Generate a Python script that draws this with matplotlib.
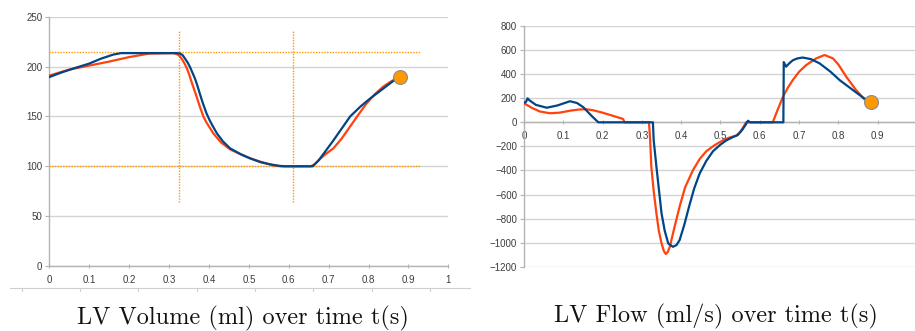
import numpy as np
import matplotlib.pyplot as plt
from matplotlib.lines import Line2D

# LV volume (ml) - time t(s)
vol_t_blue = [0.0, 0.03, 0.06, 0.10, 0.13, 0.16, 0.18, 0.25, 0.32, 0.328, 0.334, 0.34, 0.346,
              0.352, 0.358, 0.365, 0.371, 0.377, 0.385, 0.394, 0.402, 0.41, 0.42, 0.435, 0.453,
              0.48, 0.503, 0.53, 0.553, 0.575, 0.59, 0.66, 0.675, 0.69, 0.712, 0.733, 0.754,
              0.78, 0.804, 0.837, 0.86, 0.88]
vol_blue = [189.5, 194, 198, 203, 208, 212, 213.5, 213.5, 213.5, 213, 211.5, 208, 204.5,
            200, 194.5, 188, 181, 173, 163, 153, 146, 140, 133, 125, 118,
            112, 108, 104, 102, 100.5, 100, 100, 106, 114, 126, 138, 150,
            160, 168, 178, 185, 190]
vol_t_red = [0.0, 0.05, 0.10, 0.15, 0.20, 0.25, 0.31, 0.32, 0.327, 0.333, 0.339, 0.345, 0.351,
             0.357, 0.363, 0.369, 0.377, 0.386, 0.393, 0.40, 0.411, 0.43, 0.453, 0.48, 0.503,
             0.53, 0.56, 0.58, 0.655, 0.665, 0.68, 0.695, 0.712, 0.733, 0.754, 0.775, 0.795,
             0.815, 0.837, 0.86, 0.88]
vol_red = [191, 197, 201, 205, 209.5, 213, 213.5, 212.5, 210.5, 207, 203, 198, 191.5,
           184, 177, 170, 160, 150, 144.5, 140, 133, 124, 117, 112, 108,
           104.5, 101, 100, 100, 102, 108, 113, 118, 128, 140, 152, 163,
           172, 180, 186, 190]
vol_dot = (0.88, 190)
vol_hlines = [215, 100]
vol_vlines = [0.326, 0.611]

# LV flow (ml/s) - time t(s)
flow_t_blue = [0.0, 0.005, 0.009, 0.013, 0.03, 0.058, 0.085, 0.117, 0.135, 0.151, 0.17, 0.189,
               0.25, 0.328, 0.33, 0.337, 0.344, 0.35, 0.358, 0.367, 0.379, 0.388, 0.396, 0.408,
               0.42, 0.433, 0.447, 0.464, 0.481, 0.50, 0.515, 0.53, 0.544, 0.556, 0.564, 0.57,
               0.575, 0.66, 0.661, 0.667, 0.675, 0.684, 0.695, 0.709, 0.73, 0.752, 0.78, 0.803,
               0.837, 0.865, 0.883]
flow_blue = [162, 170, 199, 185, 145, 121, 140, 175, 160, 125, 60, 0,
             0, 0, -150, -370, -580, -757, -900, -1006, -1034, -1020, -978, -850,
             -700, -550, -425, -320, -240, -185, -150, -125, -106, -60, -20, 13,
             0, 0, 500, 462, 490, 515, 530, 538, 525, 490, 420, 351,
             268, 200, 171]
flow_t_red = [0.0, 0.02, 0.04, 0.066, 0.09, 0.12, 0.142, 0.16, 0.176, 0.2, 0.218, 0.24, 0.252,
              0.256, 0.318, 0.321, 0.324, 0.33, 0.337, 0.343, 0.35, 0.356, 0.361, 0.366, 0.371,
              0.383, 0.396, 0.41, 0.43, 0.447, 0.464, 0.485, 0.506, 0.52, 0.54, 0.55, 0.558,
              0.565, 0.633, 0.645, 0.659, 0.672, 0.684, 0.70, 0.718, 0.743, 0.765, 0.786, 0.80,
              0.82, 0.845, 0.865, 0.883]
flow_red = [158, 120, 90, 75, 80, 98, 107, 108, 100, 80, 62, 40, 28,
            0, 0, -150, -370, -570, -757, -900, -1006, -1070, -1094, -1075, -1034,
            -870, -700, -540, -397, -305, -240, -190, -150, -130, -110, -80, -40,
            0, 0, 100, 213, 290, 351, 420, 475, 530, 559, 531, 480,
            379, 268, 195, 171]
flow_dot = (0.883, 171)

blue = '#004586'
red = '#ff420e'
orange = '#ff9900'
grid_c = '#d4d4d4'
txt_c = '#3c3c3c'

fig = plt.figure(figsize=(9.15, 3.31), dpi=100)
plt.rcParams['font.family'] = 'Liberation Sans'

# ---- left: volume
ax1 = fig.add_axes([0.0539, 0.1964, 0.4361, 0.7531])
ax1.set_xlim(0, 1)
ax1.set_ylim(0, 250)
ax1.set_xticks(np.arange(0, 1.01, 0.1))
ax1.set_xticklabels(['0', '0.1', '0.2', '0.3', '0.4', '0.5', '0.6', '0.7', '0.8', '0.9', '1'])
ax1.set_yticks(np.arange(0, 251, 50))
ax1.grid(axis='y', color=grid_c, lw=1)
ax1.set_axisbelow(True)
for h in vol_hlines:
    ax1.plot([-0.008, 0.93], [h, h], color=orange, lw=1, ls=(0, (1, 1)), zorder=3)
for v in vol_vlines:
    ax1.plot([v, v], [64, 237], color=orange, lw=1, ls=(0, (1, 1)), zorder=3)
ax1.plot(vol_t_red, vol_red, color=red, lw=1.6, zorder=4)
ax1.plot(vol_t_blue, vol_blue, color=blue, lw=1.6, zorder=5)
ax1.plot(*vol_dot, 'o', ms=10, color=orange, mec='#8c8c8c', mew=0.8, zorder=6, clip_on=False)

# ---- right: flow
ax2 = fig.add_axes([0.5727, 0.194, 0.4273, 0.7275])
ax2.set_xlim(0, 0.995)
ax2.set_ylim(-1200, 800)
ax2.set_xticks(np.arange(0, 0.91, 0.1))
ax2.set_xticklabels(['0', '0.1', '0.2', '0.3', '0.4', '0.5', '0.6', '0.7', '0.8', '0.9'])
ax2.set_yticks(np.arange(-1200, 801, 200))
ax2.grid(axis='y', color=grid_c, lw=1)
ax2.set_axisbelow(True)
ax2.spines['bottom'].set_position(('data', 0))
ax2.plot(flow_t_red, flow_red, color=red, lw=1.6, zorder=4)
ax2.plot(flow_t_blue, flow_blue, color=blue, lw=1.6, zorder=5)
ax2.plot(*flow_dot, 'o', ms=10, color=orange, mec='#8c8c8c', mew=0.8, zorder=6, clip_on=False)

for ax in (ax1, ax2):
    for s in ('top', 'right'):
        ax.spines[s].set_visible(False)
    for s in ('left', 'bottom'):
        ax.spines[s].set_color('#b3b3b3')
        ax.spines[s].set_linewidth(1)
    ax.tick_params(labelsize=7, colors='#b3b3b3', labelcolor=txt_c, length=3, width=0.8, pad=2)
    ax.tick_params(axis='x', direction='inout', pad=5)

# stray table border under left chart
fig.add_artist(Line2D([10 / 915, 470 / 915], [1 - 288 / 331] * 2, color='#cfcfcf', lw=0.8))
for px in [21.7, 80, 138, 197, 255, 313, 372, 430]:
    fig.add_artist(Line2D([px / 915] * 2, [1 - 288 / 331, 1 - 291 / 331], color='#cfcfcf', lw=0.8))

fig.text(0.265, 0.039, 'LV Volume (ml) over time t(s)', family='cmr10', fontsize=17.5,
         ha='center', va='center', color='#111111')
fig.text(0.7825, 0.045, 'LV Flow (ml/s) over time t(s)', family='cmr10', fontsize=17.5,
         ha='center', va='center', color='#111111')

fig.savefig('out.png', dpi=100)
